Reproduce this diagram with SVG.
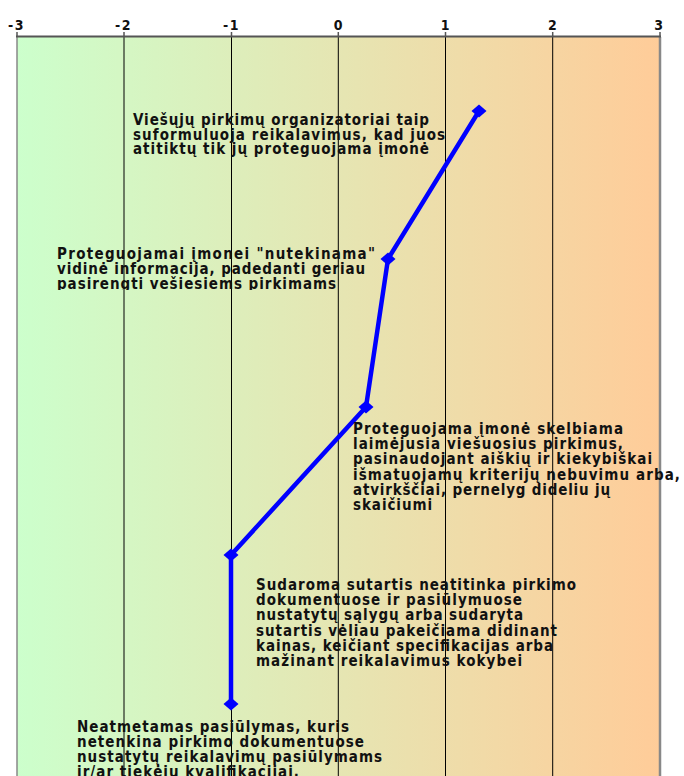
<svg xmlns="http://www.w3.org/2000/svg" width="684" height="776" viewBox="0 0 684 776">
<style>
.lbl{font-family:"DejaVu Sans Condensed","DejaVu Sans","Liberation Sans",sans-serif;font-weight:bold;font-size:15px;fill:#111;}
.ax{font-family:"DejaVu Sans Condensed","DejaVu Sans","Liberation Sans",sans-serif;font-weight:bold;font-size:14px;fill:#111;text-anchor:middle;letter-spacing:1.5px;}
.grid{stroke:#000;stroke-width:1;}
.tick{stroke:#555;stroke-width:1.5;}
</style>
<defs>
<linearGradient id="bg" x1="0" y1="0" x2="1" y2="0">
<stop offset="0" stop-color="#ccffcc"/>
<stop offset="1" stop-color="#ffcc99"/>
</linearGradient>
<marker id="dia" markerUnits="userSpaceOnUse" markerWidth="18" markerHeight="14" refX="8" refY="7" orient="0" overflow="visible">
<path d="M0.5 7 L8 0.5 L15.5 7 L8 13.5 Z" fill="#0000ff"/>
</marker>
<clipPath id="c1"><rect x="0" y="100" width="684" height="57"/></clipPath>
<clipPath id="c2"><rect x="0" y="240" width="684" height="50"/></clipPath>
<clipPath id="c4"><rect x="0" y="570" width="684" height="99"/></clipPath>
</defs>
<g id="axis">
<rect x="17" y="37" width="643" height="739" fill="url(#bg)"/>
<line class="grid" x1="124" y1="37" x2="124" y2="776"/>
<line class="grid" x1="231.5" y1="37" x2="231.5" y2="776"/>
<line class="grid" x1="338.3" y1="37" x2="338.3" y2="776"/>
<line class="grid" x1="445.5" y1="37" x2="445.5" y2="776"/>
<line class="grid" x1="552.7" y1="37" x2="552.7" y2="776"/>
<line x1="17" y1="37" x2="17" y2="776" stroke="#888" stroke-width="1.5"/>
<line x1="660" y1="37" x2="660" y2="776" stroke="#888" stroke-width="2.5"/>
<line x1="16" y1="36.5" x2="661" y2="36.5" stroke="#555" stroke-width="2"/>
<line class="tick" x1="17" y1="32" x2="17" y2="37"/>
<line class="tick" x1="124" y1="32" x2="124" y2="37"/>
<line class="tick" x1="231.5" y1="32" x2="231.5" y2="37"/>
<line class="tick" x1="338.3" y1="32" x2="338.3" y2="37"/>
<line class="tick" x1="445.5" y1="32" x2="445.5" y2="37"/>
<line class="tick" x1="552.7" y1="32" x2="552.7" y2="37"/>
<line class="tick" x1="660" y1="32" x2="660" y2="37"/>
<text class="ax" x="16.5" y="29.5">-3</text>
<text class="ax" x="123.5" y="29.5">-2</text>
<text class="ax" x="231.5" y="29.5">-1</text>
<text class="ax" x="338.8" y="29.5">0</text>
<text class="ax" x="446" y="29.5">1</text>
<text class="ax" x="553.2" y="29.5">2</text>
<text class="ax" x="659.5" y="29.5">3</text>
</g>
<g id="connectors">
<polyline points="479,111 388,259 366,407 231,555 231,704" fill="none" stroke="#0000ff" stroke-width="4.5" stroke-linejoin="round" marker-start="url(#dia)" marker-mid="url(#dia)" marker-end="url(#dia)"/>
</g>
<g id="n1" clip-path="url(#c1)">
<text class="lbl" x="133" y="125" textLength="296" lengthAdjust="spacing">Viešųjų pirkimų organizatoriai taip</text>
<text class="lbl" x="133" y="139.5" textLength="312" lengthAdjust="spacing">suformuluoja reikalavimus, kad juos</text>
<text class="lbl" x="133" y="154" textLength="296" lengthAdjust="spacing">atitiktų tik jų proteguojama įmonė</text>
</g>
<g id="n2" clip-path="url(#c2)">
<text class="lbl" x="57" y="259" textLength="318" lengthAdjust="spacing">Proteguojamai įmonei "nutekinama"</text>
<text class="lbl" x="57" y="273.5" textLength="308" lengthAdjust="spacing">vidinė informacija, padedanti geriau</text>
<text class="lbl" x="57" y="288.5" textLength="279" lengthAdjust="spacing">pasirengti vešiesiems pirkimams</text>
</g>
<g id="n3">
<text class="lbl" x="353" y="434.3" textLength="270" lengthAdjust="spacing">Proteguojama įmonė skelbiama</text>
<text class="lbl" x="353" y="449.3" textLength="270" lengthAdjust="spacing">laimėjusia viešuosius pirkimus,</text>
<text class="lbl" x="353" y="464.4" textLength="299" lengthAdjust="spacing">pasinaudojant aiškių ir kiekybiškai</text>
<text class="lbl" x="353" y="479.5" textLength="327" lengthAdjust="spacing">išmatuojamų kriterijų nebuvimu arba,</text>
<text class="lbl" x="353" y="494.8" textLength="257" lengthAdjust="spacing">atvirkščiai, pernelyg dideliu jų</text>
<text class="lbl" x="353" y="510" textLength="79" lengthAdjust="spacing">skaičiumi</text>
</g>
<g id="n4" clip-path="url(#c4)">
<text class="lbl" x="256" y="590" textLength="320" lengthAdjust="spacing">Sudaroma sutartis neatitinka pirkimo</text>
<text class="lbl" x="256" y="605.2" textLength="266" lengthAdjust="spacing">dokumentuose ir pasiūlymuose</text>
<text class="lbl" x="256" y="620.4" textLength="267" lengthAdjust="spacing">nustatytų sąlygų arba sudaryta</text>
<text class="lbl" x="256" y="635.6" textLength="301" lengthAdjust="spacing">sutartis vėliau pakeičiama didinant</text>
<text class="lbl" x="256" y="650.8" textLength="297" lengthAdjust="spacing">kainas, keičiant specifikacijas arba</text>
<text class="lbl" x="256" y="666" textLength="266" lengthAdjust="spacing">mažinant reikalavimus kokybei</text>
</g>
<g id="n5">
<text class="lbl" x="77" y="732" textLength="272" lengthAdjust="spacing">Neatmetamas pasiūlymas, kuris</text>
<text class="lbl" x="77" y="747" textLength="287" lengthAdjust="spacing">netenkina pirkimo dokumentuose</text>
<text class="lbl" x="77" y="762" textLength="305" lengthAdjust="spacing">nustatytų reikalavimų pasiūlymams</text>
<text class="lbl" x="77" y="777" textLength="222" lengthAdjust="spacing">ir/ar tiekėjų kvalifikacijai,</text>
</g>
</svg>
